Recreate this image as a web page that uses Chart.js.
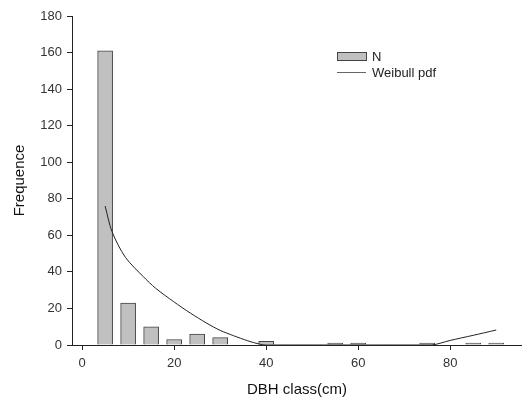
<!DOCTYPE html>
<html>
<head>
<meta charset="utf-8">
<script src="https://cdn.jsdelivr.net/npm/chart.js@4/dist/chart.umd.min.js"></script>
<style>
  html,body{margin:0;padding:0;background:#fff;}
  #wrap{position:relative;width:522px;height:403px;}
</style>
</head>
<body>
<div id="wrap"><canvas id="chart" width="522" height="403"></canvas></div>
<script>
// DBH class midpoints and tree counts
const dbhClass = [5,10,15,20,25,30,35,40,45,50,55,60,65,70,75,80,85,90];
const counts   = [161,23,10,3,6,4,0,2,0,0,1,1,0,0,1,0,1,1];

// fitted Weibull pdf curve
const pdfX = [5,6.5,9.4,13.3,16,19.9,23.5,27.1,30,32.9,36,38.5,40,50,60,70,76,80,85,90];
const pdfY = [76,62,48,37.4,31,23.7,17.5,11.9,8,5.1,2.3,0.5,0,0,0,0,0,2.5,5.3,8.2];

const xTicks = [0,20,40,60,80];
const yTicks = [0,20,40,60,80,100,120,140,160,180];

const FONT = 'Arial, "Liberation Sans", sans-serif';

const legendBox = {
  id:'legendBox',
  afterDraw(chart){
    const ctx = chart.ctx;
    const ds = chart.data.datasets;
    ctx.save();
    ctx.font = '13px ' + FONT;
    ctx.textBaseline = 'middle';
    // bar swatch
    ctx.fillStyle = '#c0c0c0';
    ctx.fillRect(337,52,29,8);
    ctx.strokeStyle = '#444'; ctx.lineWidth = 1;
    ctx.strokeRect(337.5,52.5,29,8);
    ctx.fillStyle = '#222';
    ctx.fillText(ds[0].label, 372, 57);
    // line swatch
    ctx.strokeStyle = '#666';
    ctx.beginPath(); ctx.moveTo(337,72.5); ctx.lineTo(366,72.5); ctx.stroke();
    ctx.fillText(ds[1].label, 372, 73);
    ctx.restore();
  }
};

new Chart(document.getElementById('chart'), {
  type:'bar',
  data:{
    datasets:[
      {
        label:'N',
        data: dbhClass.map((x,i)=>({x, y:counts[i]})),
        backgroundColor:'#c0c0c0',
        borderColor:'#444',
        borderWidth:1,
        barThickness:15,
        order:2
      },
      {
        type:'line',
        label:'Weibull pdf',
        data: pdfX.map((x,i)=>({x, y:pdfY[i]})),
        borderColor:'#222',
        borderWidth:1,
        pointRadius:0,
        fill:false,
        tension:0.3,
        order:1
      }
    ]
  },
  options:{
    responsive:false,
    animation:false,
    layout:{padding:{top:16,right:0,left:0,bottom:0}},
    plugins:{legend:{display:false}, tooltip:{enabled:false}},
    scales:{
      x:{
        type:'linear',
        offset:false,
        min:-2.2, max:95.6,
        afterBuildTicks(s){ s.ticks = xTicks.map(v=>({value:v})); },
        grid:{display:true, offset:false, drawOnChartArea:false, drawTicks:true, tickLength:5, color:'#222'},
        border:{display:true, color:'#222', width:1},
        ticks:{color:'#333', font:{family:FONT, size:13}, padding:6},
        title:{display:true, text:'DBH class(cm)', color:'#111', font:{family:FONT, size:15}, padding:{top:12}},
        afterFit(s){ s.height = 58; }
      },
      y:{
        min:0, max:180,
        afterBuildTicks(s){ s.ticks = yTicks.map(v=>({value:v})); },
        grid:{display:true, drawOnChartArea:false, drawTicks:true, tickLength:5, color:'#222'},
        border:{display:true, color:'#222', width:1},
        ticks:{color:'#333', font:{family:FONT, size:13}, padding:5},
        title:{display:true, text:'Frequence', color:'#111', font:{family:FONT, size:15}, padding:{top:11, bottom:4}},
        afterFit(s){ s.width = 72; }
      }
    }
  },
  plugins:[legendBox]
});
</script>
</body>
</html>
